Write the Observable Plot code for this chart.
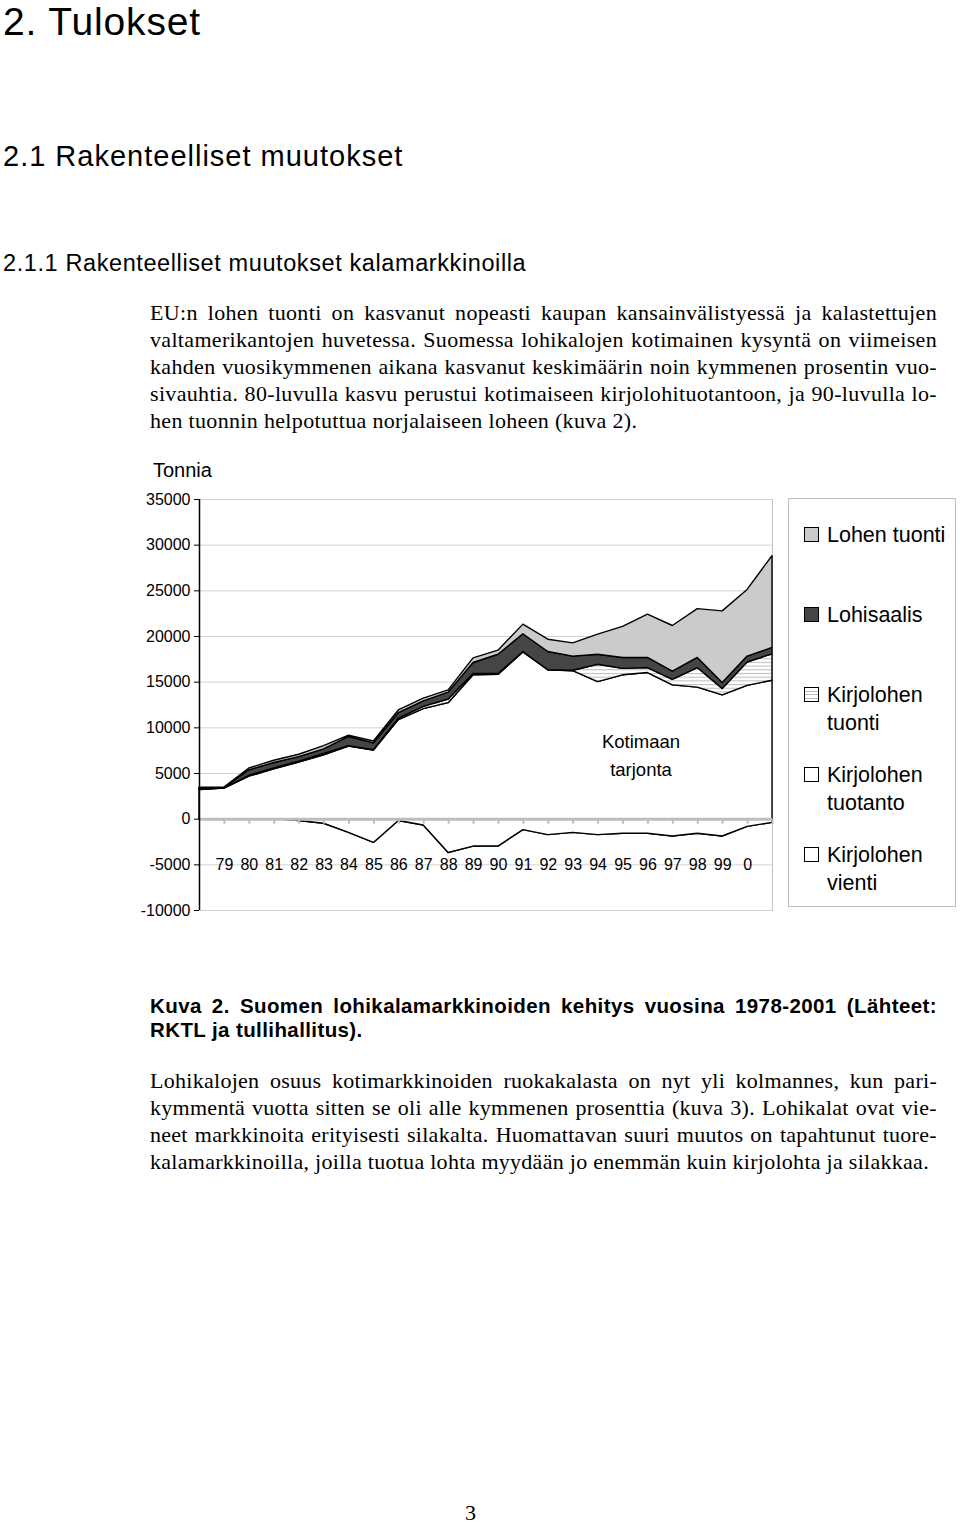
<!DOCTYPE html>
<html>
<head>
<meta charset="utf-8">
<script src="https://cdn.jsdelivr.net/npm/d3@7"></script>
<script src="https://cdn.jsdelivr.net/npm/@observablehq/plot@0.6"></script>
<style>
  html, body { margin: 0; padding: 0; background: #fff; }
  #page { position: relative; width: 960px; height: 1525px; overflow: hidden; color: #000; }
  .t { position: absolute; white-space: nowrap; line-height: 1; }
  .sans { font-family: "Liberation Sans", Arial, Helvetica, sans-serif; }
  .serif { font-family: "Liberation Serif", "Times New Roman", serif; }
  .just { display: flex; justify-content: space-between; width: 787px; }
  #chart { position: absolute; left: 100px; top: 450px; }
  #legend { position: absolute; left: 788px; top: 498px; width: 168px; height: 409px; border: 1px solid #bdbdbd; box-sizing: border-box; }
  .sw { position: absolute; width: 15px; height: 15px; border: 1px solid #000; box-sizing: border-box; }
  .lg { position: absolute; font-family: "Liberation Sans", Arial, sans-serif; font-size: 21.5px; line-height: 28px; white-space: nowrap; }
</style>
</head>
<body>
<div id="page"></div>
<script>
// ---------------- data ----------------
const years = [1978, 1979, 1980, 1981, 1982, 1983, 1984, 1985, 1986, 1987, 1988, 1989,
               1990, 1991, 1992, 1993, 1994, 1995, 1996, 1997, 1998, 1999, 2000, 2001];
const xLabelYears = [1979, 1980, 1981, 1982, 1983, 1984, 1985, 1986, 1987, 1988, 1989, 1990,
                     1991, 1992, 1993, 1994, 1995, 1996, 1997, 1998, 1999, 2000];
const xLabels = ["79", "80", "81", "82", "83", "84", "85", "86", "87", "88", "89", "90",
                 "91", "92", "93", "94", "95", "96", "97", "98", "99", "0"];
const yTicks = [-10000, -5000, 0, 5000, 10000, 15000, 20000, 25000, 30000, 35000];

// series (tonnes), stacked bottom -> top in the order below
const kirjolohenVienti   = [0, 0, 0, 0, -200, -500, -1500, -2600, -200, -700, -3700, -3000,
                            -3000, -1200, -1750, -1500, -1750, -1600, -1600, -1900, -1600, -1900, -850, -400];
const kirjolohenTuotanto = [3200, 3350, 4650, 5450, 6400, 7500, 9450, 10100, 11050, 12750, 16400, 18750,
                            18800, 19450, 18050, 17700, 16750, 17350, 17600, 16550, 16000, 15450, 15450, 15550];
const kirjolohenTuonti   = [50, 0, 100, 100, 100, 150, 50, 50, 150, 250, 400, 150,
                            100, 50, 0, 50, 1900, 700, 550, 600, 2150, 700, 2550, 2900];
const lohisaalis         = [50, 50, 600, 600, 500, 500, 1000, 750, 600, 600, 750, 1200,
                            2100, 1950, 2000, 1550, 1100, 1200, 1100, 900, 1100, 650, 650, 700];
const lohenTuonti        = [150, 50, 200, 250, 250, 350, 150, 200, 300, 300, 250, 500,
                            450, 1050, 1350, 1450, 2200, 3400, 4750, 5000, 5350, 7850, 7300, 10050];

const legendNames = ["Lohen tuonti", "Lohisaalis", "Kirjolohen\ntuonti", "Kirjolohen\ntuotanto", "Kirjolohen\nvienti"];
const annotation = ["Kotimaan", "tarjonta"];

// ---------------- page text ----------------
const page = document.getElementById("page");
function addText(txt, o) {
  const d = document.createElement("div");
  d.className = "t " + (o.serif ? "serif" : "sans") + (o.justify ? " just" : "");
  const lh = o.lh || 1;
  const asc = o.serif ? (lh - 1.107) / 2 + 0.891 : (lh - 1.117) / 2 + 0.905;
  d.style.lineHeight = lh;
  d.style.left = o.left + "px";
  d.style.top = (o.baseline - asc * o.size) + "px";
  d.style.fontSize = o.size + "px";
  if (o.bold) d.style.fontWeight = "bold";
  if (o.ls) d.style.letterSpacing = o.ls + "px";
  if (o.justify) {
    txt.split(" ").forEach(w => { const s = document.createElement("span"); s.textContent = w; d.appendChild(s); });
  } else d.textContent = txt;
  page.appendChild(d);
}
addText("2. Tulokset", {left: 3, baseline: 35.5, size: 39, ls: 0.85, lh: 1.15});
addText("2.1 Rakenteelliset muutokset", {left: 3, baseline: 167, size: 29, ls: 1.0});
addText("2.1.1 Rakenteelliset muutokset kalamarkkinoilla", {left: 3, baseline: 271.5, size: 23.5, ls: 0.6});

const para1 = [
  "EU:n lohen tuonti on kasvanut nopeasti kaupan kansainvälistyessä ja kalastettujen",
  "valtamerikantojen huvetessa. Suomessa lohikalojen kotimainen kysyntä on viimeisen",
  "kahden vuosikymmenen aikana kasvanut keskimäärin noin kymmenen prosentin vuo-",
  "sivauhtia. 80-luvulla kasvu perustui kotimaiseen kirjolohituotantoon, ja 90-luvulla lo-",
  "hen tuonnin helpotuttua norjalaiseen loheen (kuva 2)."
];
para1.forEach((l, i) => addText(l, {left: 150, baseline: 320.5 + 26.9 * i, size: 22, serif: true, ls: 0.33, justify: i < para1.length - 1}));

const caption = [
  "Kuva 2. Suomen lohikalamarkkinoiden kehitys vuosina 1978-2001 (Lähteet:",
  "RKTL ja tullihallitus)."
];
caption.forEach((l, i) => addText(l, {left: 150, baseline: 1013.5 + 24 * i, size: 20.5, bold: true, ls: 0.4, justify: i === 0}));

const para2 = [
  "Lohikalojen osuus kotimarkkinoiden ruokakalasta on nyt yli kolmannes, kun pari-",
  "kymmentä vuotta sitten se oli alle kymmenen prosenttia (kuva 3). Lohikalat ovat vie-",
  "neet markkinoita erityisesti silakalta. Huomattavan suuri muutos on tapahtunut tuore-",
  "kalamarkkinoilla, joilla tuotua lohta myydään jo enemmän kuin kirjolohta ja silakkaa."
];
para2.forEach((l, i) => addText(l, {left: 150, baseline: 1088.5 + 26.9 * i, size: 22, serif: true, ls: 0.28, justify: i < para2.length - 1}));

addText("3", {left: 465, baseline: 1520, size: 22, serif: true, lh: 0.9});
addText("Tonnia", {left: 153, baseline: 477, size: 20});

// ---------------- chart ----------------
const stackOrder = [
  {values: kirjolohenVienti,   fill: "#ffffff"},
  {values: kirjolohenTuotanto, fill: "#ffffff"},
  {values: kirjolohenTuonti,   fill: "url(#hatch)"},
  {values: lohisaalis,         fill: "#454545"},
  {values: lohenTuonti,        fill: "#cbcbcb"}
];
let base = years.map(() => 0);
const layers = stackOrder.map(s => {
  const rows = years.map((yr, i) => ({year: yr, lo: base[i], hi: base[i] + s.values[i]}));
  base = rows.map(r => r.hi);
  return {fill: s.fill, rows};
});

const chart = Plot.plot({
  width: 680,
  height: 470,
  marginLeft: 99,
  marginRight: 8,
  marginTop: 49,
  marginBottom: 10,
  x: {type: "linear", domain: [years[0], years[years.length - 1]]},
  y: {domain: [yTicks[0], yTicks[yTicks.length - 1]]},
  style: {fontFamily: "Liberation Sans, Arial, sans-serif", fontSize: "16px", color: "#000", background: "transparent", overflow: "visible"},
  marks: [
    Plot.frame({stroke: "#c4c4c4"}),
    Plot.gridY({ticks: yTicks, stroke: "#d2d2d2", strokeOpacity: 1}),
    ...layers.map(L => Plot.areaY(L.rows, {x: "year", y1: "lo", y2: "hi", fill: L.fill, stroke: "#000", strokeWidth: 1.4, strokeLinejoin: "round"})),
    Plot.ruleY([0], {stroke: "#bdbdbd", strokeWidth: 3}),
    Plot.ruleX(years.slice(1), {x: d => d, y1: 0, y2: -550, stroke: "#bdbdbd", strokeWidth: 2}),
    Plot.axisY({ticks: yTicks, tickFormat: d => String(d), tickSize: 5, tickPadding: 4, label: null, fontSize: 16}),
    Plot.ruleX([years[0]], {stroke: "#000", strokeWidth: 1.5}),
    Plot.axisX({ticks: xLabelYears, tickFormat: (d) => xLabels[xLabelYears.indexOf(d)], tickSize: 0, tickPadding: 0, label: null, fontSize: 16, dy: -52})
  ]
});
chart.id = "chart";
const defs = d3.select(chart).insert("defs", ":first-child");
const pat = defs.append("pattern").attr("id", "hatch").attr("patternUnits", "userSpaceOnUse").attr("width", 8).attr("height", 3.7);
pat.append("rect").attr("width", 8).attr("height", 3.7).attr("fill", "#fff");
pat.append("line").attr("x1", 0).attr("x2", 8).attr("y1", 1.5).attr("y2", 1.5).attr("stroke", "#bababa").attr("stroke-width", 1);
page.appendChild(chart);

// annotation inside the plot
const ann = document.createElement("div");
ann.className = "lg";
ann.style.fontSize = "18.5px";
ann.style.left = "590px";
ann.style.width = "102px";
ann.style.textAlign = "center";
ann.style.top = "728px";
ann.style.whiteSpace = "pre";
ann.textContent = annotation.join("\n");
page.appendChild(ann);

// ---------------- legend ----------------
const legend = document.createElement("div");
legend.id = "legend";
page.appendChild(legend);
const legendFills = ["#cbcbcb", "#454545", "hatch", "#ffffff", "#ffffff"];
const legendCenters = [534, 614, 694, 774, 854];
legendNames.forEach((name, i) => {
  const sw = document.createElement("div");
  sw.className = "sw";
  sw.style.left = (803 - 788) + "px";
  sw.style.top = (legendCenters[i] - 8 - 498) + "px";
  if (legendFills[i] === "hatch") {
    sw.style.background = "repeating-linear-gradient(to bottom, #fff 0px, #fff 2.5px, #bdbdbd 2.5px, #bdbdbd 3.7px)";
  } else sw.style.background = legendFills[i];
  legend.appendChild(sw);
  const tx = document.createElement("div");
  tx.className = "lg";
  tx.style.left = (826 - 788) + "px";
  tx.style.top = (legendCenters[i] - 14 - 498) + "px";
  tx.style.whiteSpace = "pre";
  tx.textContent = name;
  legend.appendChild(tx);
});
</script>
</body>
</html>
